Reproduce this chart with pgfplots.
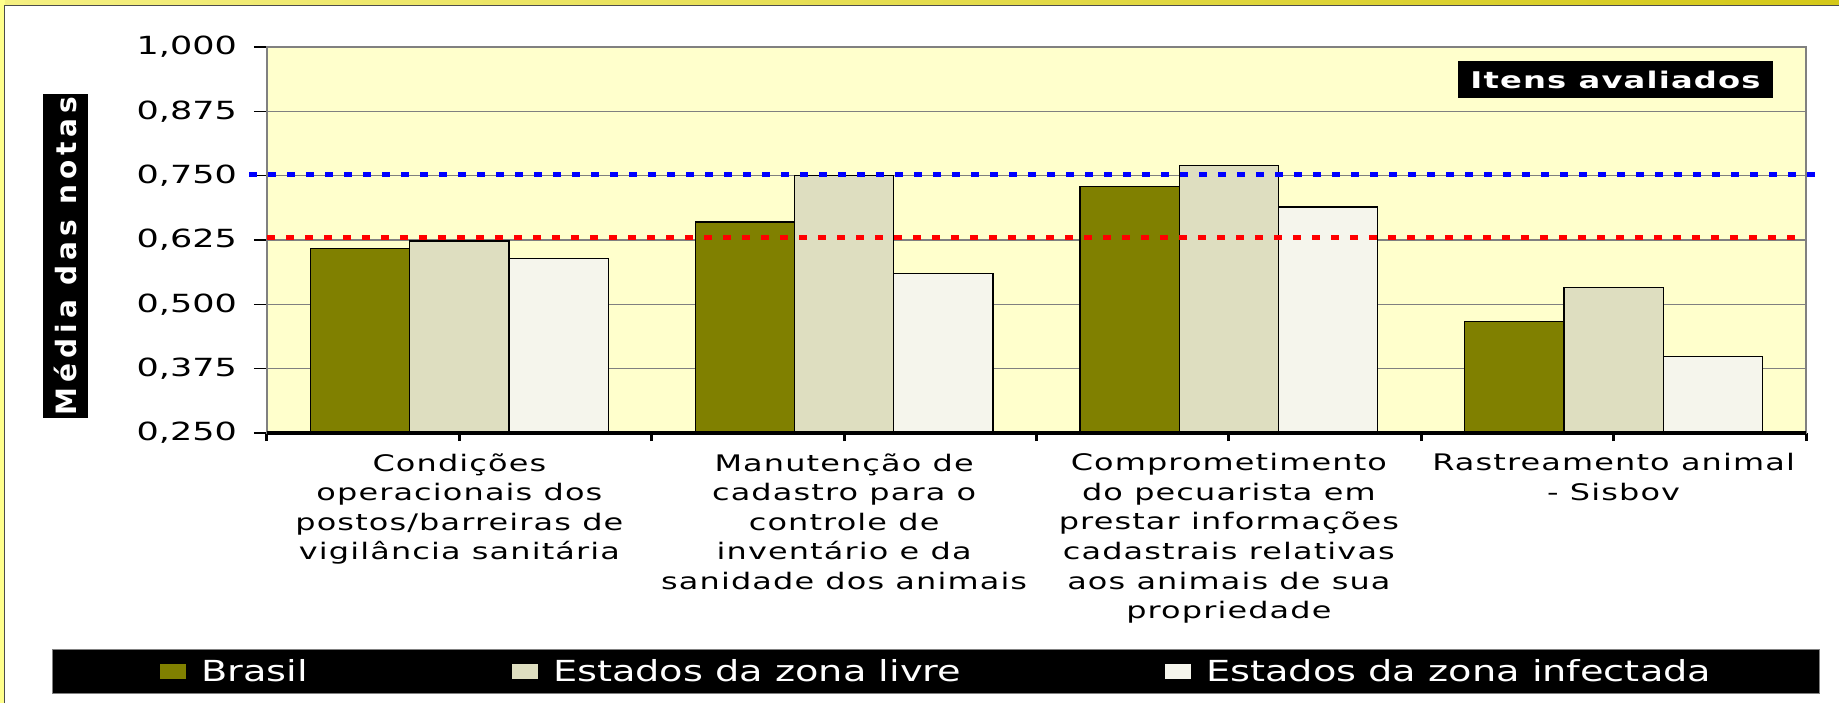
\documentclass[border=0pt]{standalone}
\usepackage{fontspec}
\setmainfont{DejaVu Sans}[FakeStretch=1.4]
\newfontfamily\ylabfont{DejaVu Sans}[LetterSpace=18]
\newfontfamily\legfont{DejaVu Sans}[FakeStretch=1.32]
\usepackage{pgfplots}
\pgfplotsset{compat=1.18}
\definecolor{brasil}{RGB}{128,128,0}
\definecolor{livre}{RGB}{222,222,192}
\definecolor{infect}{RGB}{245,245,236}
\definecolor{bgyellow}{RGB}{255,255,204}
\definecolor{gridgray}{RGB}{128,128,128}
\definecolor{frameA}{RGB}{245,240,130}
\definecolor{frameB}{RGB}{212,200,25}
\definecolor{frameL}{RGB}{255,255,140}

\pgfplotstableread{
x brasil livre infect
0 0.608 0.623 0.589
1 0.660 0.750 0.560
2 0.729 0.770 0.689
3 0.466 0.532 0.399
}\datatable

\begin{document}
\begin{tikzpicture}
\fill[white] (-133.5pt,-135pt) rectangle (786pt,216.5pt);
\shade[left color=frameA, right color=frameB] (-133.5pt,214pt) rectangle (786pt,216.5pt);
\fill[frameL] (-133.5pt,-135pt) rectangle (-131pt,216.5pt);
\draw[black!70, line width=0.5pt] (-131pt,-135pt) -- (-131pt,214pt) -- (786pt,214pt);
\begin{axis}[
  at={(0,0)}, anchor=south west,
  scale only axis, width=769.5pt, height=193pt,
  xmin=-0.5, xmax=3.5, ymin=0.25, ymax=1,
  clip=false,
  ybar,
  axis background/.style={fill=bgyellow},
  axis line style={gridgray, line width=0.6pt},
  ytick={0.25,0.375,0.5,0.625,0.75,0.875,1},
  scaled y ticks=false,
  ymajorgrids, major grid style={gridgray, line width=0.7pt},
  ytick pos=left, xtick pos=left,
  tick align=outside,
  major tick length=6.5pt,
  ytick style={black, line width=0.6pt},
  /pgf/number format/assume math mode=true,
  yticklabel style={font=\fontsize{12.5}{14}\selectfont, xshift=-5pt,
    /pgf/number format/fixed, /pgf/number format/fixed zerofill,
    /pgf/number format/precision=3, /pgf/number format/use comma,
    /pgf/number format/1000 sep={}},
  xtick={-0.5,0.5,1.5,2.5,3.5},
  xticklabels={},
  xtick style={black, line width=1.5pt, /pgfplots/major tick length=4pt},
  extra x ticks={0,1,2,3},
  extra x tick labels={{Condições\\operacionais dos\\postos/barreiras de\\vigilância sanitária},
    {Manutenção de\\cadastro para o\\controle de\\inventário e da\\sanidade dos animais},
    {Comprometimento\\do pecuarista em\\prestar informações\\cadastrais relativas\\aos animais de sua\\propriedade},
    {Rastreamento animal\\- Sisbov}},
  extra x tick style={major tick length=0pt, grid=none},
  x tick label style={align=center, anchor=north, inner sep=0pt, yshift=-10pt,
    font=\fontsize{11.4}{14.8}\selectfont\addfontfeatures{LetterSpace=5}},
  legend columns=3,
  legend style={at={(axis description cs:-0.1397,-0.6179)}, anchor=west,
    fill=black, draw=gridgray, text=white,
    font=\legfont\fontsize{14.5}{16}\selectfont,
    inner xsep=54pt, inner ysep=4.8pt,
    nodes={inner sep=0pt},
    /tikz/every odd column/.append style={column sep=7.5pt},
    /tikz/every even column/.append style={column sep=102pt}},
  mylegend/.style={legend image code/.code={\fill[##1, draw=none] (0pt,-3.6pt) rectangle (13pt,3.6pt);}},
]
\addplot[fill=brasil, draw=black, line width=0.6pt, bar width=0.258, bar shift=-0.258, mylegend] table[x=x, y=brasil] {\datatable};
\addlegendentry{Brasil}
\addplot[fill=livre, draw=black, line width=0.6pt, bar width=0.258, bar shift=0, mylegend] table[x=x, y=livre] {\datatable};
\addlegendentry{Estados da zona livre}
\addplot[fill=infect, draw=black, line width=0.6pt, bar width=0.258, bar shift=0.258, mylegend] table[x=x, y=infect] {\datatable};
\addlegendentry{Estados da zona infectada}
\addplot[sharp plot, forget plot, red, line width=2.5pt, dash pattern=on 4pt off 5.5pt] coordinates {(-0.5,0.629) (3.5,0.629)};
\addplot[sharp plot, forget plot, blue, line width=2.5pt, dash pattern=on 4pt off 5.5pt] coordinates {(-0.546,0.752) (3.53,0.752)};
\draw[black, line width=2pt] (rel axis cs:0,0) -- (rel axis cs:1,0);
\node[fill=black, text=white, rotate=90, minimum width=162pt, minimum height=22.5pt, inner sep=0pt,
  font=\ylabfont\fontsize{14}{16}\selectfont\bfseries] at (rel axis cs:-0.1309,0.4585) {Média das notas};
\node[fill=black, text=white, minimum width=157.5pt, minimum height=18.5pt, inner sep=0pt,
  font=\fontsize{11.5}{13}\selectfont\bfseries\addfontfeatures{LetterSpace=5}] at (rel axis cs:0.8762,0.9158) {Itens avaliados};
\end{axis}
\pgfresetboundingbox
\useasboundingbox (-133.5pt,-135pt) rectangle (786pt,216.5pt);
\end{tikzpicture}
\end{document}
